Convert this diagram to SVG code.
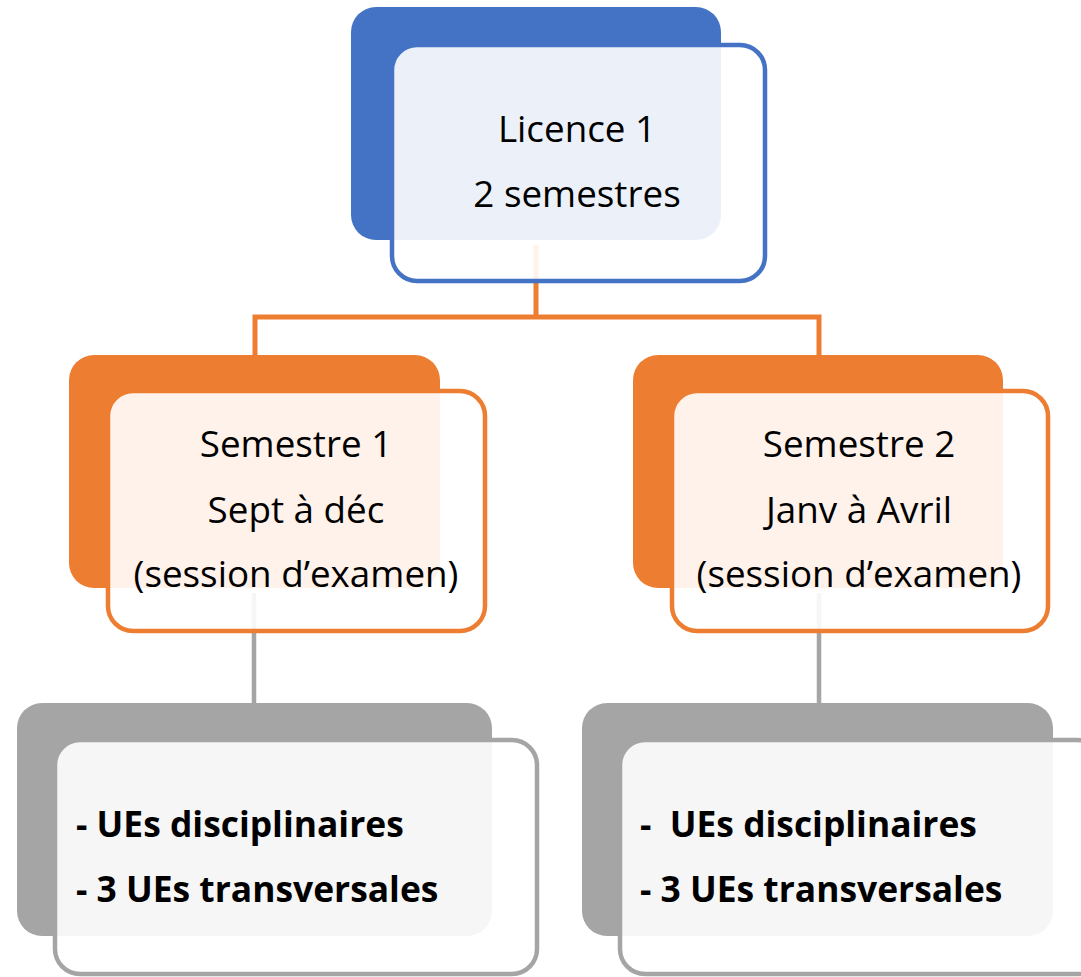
<svg xmlns="http://www.w3.org/2000/svg" width="1081" height="977" viewBox="0 0 1081 977">
<style>
  .t { font-family: "Open Sans", "Liberation Sans", sans-serif; font-size: 36.8px; fill: #000; text-anchor: middle; }
  .b { font-family: "Open Sans", "Liberation Sans", sans-serif; font-size: 35.4px; font-weight: bold; fill: #000; }
  .front { fill: #ffffff; fill-opacity: 0.9; stroke-width: 4.5; }
  .blue { fill: #4472C4; }
  .orange { fill: #ED7D31; }
  .gray { fill: #A5A5A5; }
  .sblue { stroke: #4472C4; }
  .sorange { stroke: #ED7D31; }
  .sgray { stroke: #A5A5A5; }
  .conn { fill: none; }
</style>
<rect width="1081" height="977" fill="#ffffff"/>
<g id="connectors">
  <path class="conn" d="M536 245 V317 M255 355 V317 H819 V355" stroke="#ED7D31" stroke-width="5"/>
  <path class="conn" d="M254 593 V703 M819 593 V703" stroke="#A5A5A5" stroke-width="4.5"/>
</g>
<g id="licence1">
  <rect class="blue" x="351" y="7" width="370" height="233" rx="25"/>
  <rect class="front sblue" x="392" y="45" width="373" height="236" rx="25"/>
  <text class="t" x="577" y="142">Licence 1</text>
  <text class="t" x="577" y="207">2 semestres</text>
</g>
<g id="semestre1">
  <rect class="orange" x="69" y="355" width="371" height="233" rx="25"/>
  <rect class="front sorange" x="108" y="391" width="377" height="240" rx="25"/>
  <text class="t" x="296" y="457">Semestre 1</text>
  <text class="t" x="296" y="523">Sept à déc</text>
  <text class="t" x="296" y="587">(session d’examen)</text>
</g>
<g id="semestre2">
  <rect class="orange" x="633" y="355" width="370" height="233" rx="25"/>
  <rect class="front sorange" x="672" y="391" width="376" height="240" rx="25"/>
  <text class="t" x="859" y="457">Semestre 2</text>
  <text class="t" x="859" y="523">Janv à Avril</text>
  <text class="t" x="859" y="587">(session d’examen)</text>
</g>
<g id="ues1">
  <rect class="gray" x="17" y="703" width="475" height="233" rx="25"/>
  <rect class="front sgray" x="55" y="740" width="482" height="234" rx="25"/>
  <text class="b" x="76" y="837">- UEs disciplinaires</text>
  <text class="b" x="76" y="902">- 3 UEs transversales</text>
</g>
<g id="ues2">
  <rect class="gray" x="582" y="703" width="471" height="233" rx="25"/>
  <rect class="front sgray" x="620" y="740" width="482" height="234" rx="25"/>
  <text class="b" x="640" y="837" xml:space="preserve">-  UEs disciplinaires</text>
  <text class="b" x="640" y="902">- 3 UEs transversales</text>
</g>
</svg>
